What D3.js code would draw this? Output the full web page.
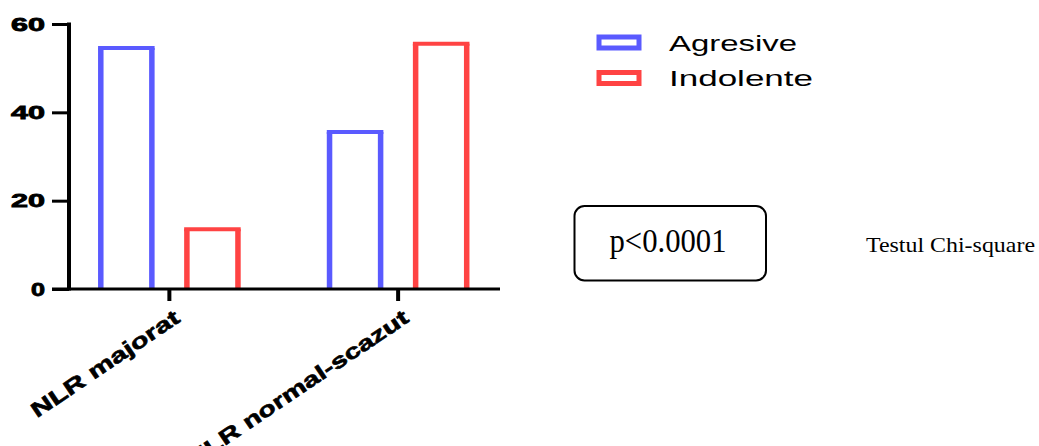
<!DOCTYPE html>
<html>
<head>
<meta charset="utf-8">
<script src="https://cdn.jsdelivr.net/npm/d3@7"></script>
<style>
  html, body { margin: 0; padding: 0; background: #fff; }
  svg { display: block; }
</style>
</head>
<body>
<svg id="chart" width="1039" height="446"></svg>
<script>
// Categories, series and values
const categories = ["NLR majorat", "NLR normal-scazut"];
const seriesNames = ["Agresive", "Indolente"];
const agresive = [55, 36];
const indolente = [14, 56];
const yTicks = [0, 20, 40, 60];
const pText = "p<0.0001";
const testText = "Testul Chi-square";

const colors = { Agresive: "#5a5aff", Indolente: "#ff4343" };
const sans = "'Liberation Sans', Arial, Helvetica, sans-serif";
const serif = "'Liberation Serif', 'Times New Roman', serif";

const svg = d3.select("#chart");

// Plot geometry
const axisX = 69, axisEnd = 500, yTop = 24, yBase = 289;

const y = d3.scaleLinear().domain([0, 60]).range([yBase, yTop]);
const x = d3.scaleBand().domain(categories).range([55, 512.5]).paddingInner(0).paddingOuter(0);
const xs = d3.scaleBand().domain(seriesNames).range([0, x.bandwidth()]).paddingInner(0.343).paddingOuter(0.5);

const rows = categories.map((c, i) => ({
  category: c,
  values: [
    { name: "Agresive", value: agresive[i] },
    { name: "Indolente", value: indolente[i] }
  ]
}));

// Bars: open outlines, border drawn inside the bar extent
const sw = 5.5, swTop = 4;
const groups = svg.append("g").selectAll("g").data(rows).join("g")
  .attr("transform", d => `translate(${x(d.category)},0)`);

groups.selectAll("path").data(d => d.values).join("path")
  .attr("fill", "none")
  .attr("stroke", d => colors[d.name])
  .attr("stroke-width", sw)
  .attr("d", d => {
    const x0 = xs(d.name) + sw / 2, x1 = xs(d.name) + xs.bandwidth() - sw / 2;
    const top = y(d.value) + swTop / 2;
    return `M${x0},${yBase}V${top}M${x1},${top}V${yBase}`;
  });

// Top edge drawn slightly thinner than the sides
groups.selectAll("line.cap").data(d => d.values).join("line")
  .attr("class", "cap")
  .attr("x1", d => xs(d.name))
  .attr("x2", d => xs(d.name) + xs.bandwidth())
  .attr("y1", d => y(d.value) + swTop / 2)
  .attr("y2", d => y(d.value) + swTop / 2)
  .attr("stroke", d => colors[d.name])
  .attr("stroke-width", swTop);

// Y axis
const yAxis = svg.append("g")
  .attr("transform", `translate(${axisX},0)`)
  .call(d3.axisLeft(y).tickValues(yTicks).tickSize(17).tickSizeOuter(0).tickPadding(7));
yAxis.select(".domain").attr("stroke", "#000").attr("stroke-width", 4)
  .attr("d", `M0,${yTop - 1.5}V${yBase + 1.5}`);
yAxis.selectAll(".tick line").attr("stroke", "#000").attr("stroke-width", 3);
yAxis.selectAll(".tick text")
  .attr("fill", "#000")
  .attr("stroke", "#000")
  .attr("stroke-width", 0.8)
  .attr("font-family", sans)
  .attr("font-weight", "bold")
  .attr("font-size", 17.5)
  .attr("dy", "0.36em")
  .attr("textLength", d => String(d).length * 20 - 6)
  .attr("lengthAdjust", "spacingAndGlyphs");

// X axis
const xAxis = svg.append("g")
  .attr("transform", `translate(0,${yBase})`)
  .call(d3.axisBottom(x).tickSize(12).tickSizeOuter(0));
xAxis.select(".domain").attr("stroke", "#000").attr("stroke-width", 3)
  .attr("d", `M${axisX - 17},0H${axisEnd}`);
xAxis.selectAll(".tick line").attr("stroke", "#000").attr("stroke-width", 4);
const labelLen = { "NLR majorat": 174, "NLR normal-scazut": 262 };
xAxis.selectAll(".tick text")
  .attr("fill", "#000")
  .attr("stroke", "#000")
  .attr("stroke-width", 0.6)
  .attr("font-family", sans)
  .attr("font-weight", "bold")
  .attr("font-size", 21)
  .attr("text-anchor", "end")
  .attr("y", 0).attr("dy", 0)
  .attr("transform", "translate(12,32) rotate(-34)")
  .attr("textLength", d => labelLen[d])
  .attr("lengthAdjust", "spacingAndGlyphs");

// Legend
const legend = svg.append("g").attr("transform", "translate(596,0)");
const legendY = d3.scalePoint().domain(seriesNames).range([42.5, 78]);
const legendLen = { Agresive: 128, Indolente: 144 };
const li = legend.selectAll("g").data(seriesNames).join("g")
  .attr("transform", d => `translate(0,${legendY(d)})`);
li.append("rect")
  .attr("x", 3).attr("y", -5.5).attr("width", 40).attr("height", 11)
  .attr("fill", "none")
  .attr("stroke", d => colors[d])
  .attr("stroke-width", 5);
li.append("text")
  .attr("x", 73).attr("y", 8)
  .attr("font-family", sans)
  .attr("font-size", 22)
  .attr("fill", "#000")
  .attr("textLength", d => legendLen[d])
  .attr("lengthAdjust", "spacingAndGlyphs")
  .text(d => d);

// p-value box
svg.append("rect")
  .attr("x", 574.5).attr("y", 206).attr("width", 191.5).attr("height", 74.5)
  .attr("rx", 10).attr("ry", 10)
  .attr("fill", "none").attr("stroke", "#000").attr("stroke-width", 2);
svg.append("text")
  .attr("x", 668).attr("y", 251.5)
  .attr("text-anchor", "middle")
  .attr("font-family", serif)
  .attr("font-size", 33)
  .attr("fill", "#000")
  .attr("textLength", 117)
  .attr("lengthAdjust", "spacingAndGlyphs")
  .text(pText);

svg.append("text")
  .attr("x", 866).attr("y", 251.5)
  .attr("font-family", serif)
  .attr("font-size", 21)
  .attr("fill", "#000")
  .attr("textLength", 169)
  .attr("lengthAdjust", "spacingAndGlyphs")
  .text(testText);
</script>
</body>
</html>
